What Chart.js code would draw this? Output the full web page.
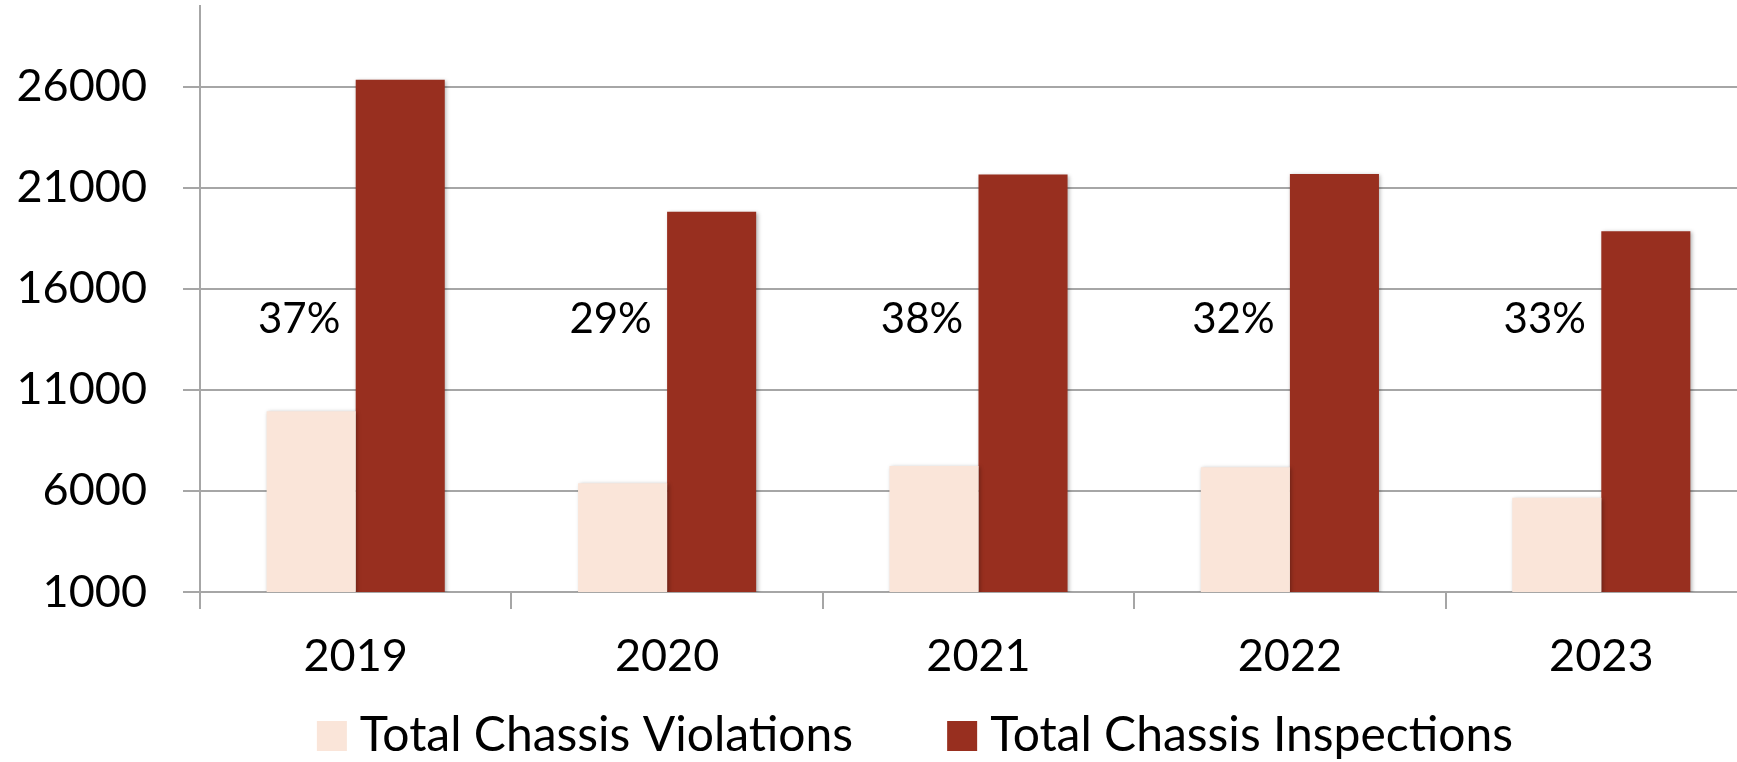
<!DOCTYPE html>
<html>
<head>
<meta charset="utf-8">
<script src="https://cdn.jsdelivr.net/npm/chart.js@4/dist/chart.umd.min.js"></script>
<style>
  html, body { margin: 0; padding: 0; background: #ffffff; overflow: hidden; }
  #wrap { position: absolute; left: 0; top: 0; width: 1830px; height: 762px; }
</style>
</head>
<body>
<div id="wrap"><canvas id="c" width="1830" height="762"></canvas></div>
<script>
const categories = ['2019', '2020', '2021', '2022', '2023'];
const violations = [9950, 6380, 7230, 7170, 5670];
const inspections = [26350, 19820, 21660, 21680, 18850];
const percentLabels = ['37%', '29%', '38%', '32%', '33%'];
const percentLabelValue = 14500;
const yTickValues = [1000, 6000, 11000, 16000, 21000, 26000];
const seriesNames = ['Total Chassis Violations', 'Total Chassis Inspections'];
const seriesColors = ['#FAE5D9', '#982F1F'];

const FONT = 'Lato, "Open Sans", sans-serif';

const shadowPlugin = {
  id: 'barShadow',
  beforeDatasetDraw(chart) {
    const ctx = chart.ctx;
    ctx.save();
    ctx.shadowColor = 'rgba(0,0,0,0.30)';
    ctx.shadowBlur = 4;
    ctx.shadowOffsetX = 1.5;
    ctx.shadowOffsetY = 1;
  },
  afterDatasetDraw(chart) {
    chart.ctx.restore();
  }
};

const percentPlugin = {
  id: 'percentLabels',
  afterDatasetsDraw(chart) {
    const ctx = chart.ctx;
    const meta = chart.getDatasetMeta(0);
    const y = chart.scales.y.getPixelForValue(percentLabelValue);
    ctx.save();
    ctx.font = '42px ' + FONT;
    ctx.fillStyle = '#000000';
    ctx.textAlign = 'center';
    ctx.textBaseline = 'middle';
    percentLabels.forEach((t, i) => {
      const el = meta.data[i];
      ctx.fillText(t, el.x - 12, y);
    });
    ctx.restore();
  }
};

// Custom legend drawn below the axis (layout only; names/colours come from datasets)
const legendPlugin = {
  id: 'customLegend',
  afterDraw(chart) {
    const ctx = chart.ctx;
    const ds = chart.data.datasets;
    const box = 30, gap = 13, spacing = 94, centerX = 915, baseY = 751;
    ctx.save();
    ctx.font = '48px ' + FONT;
    ctx.textBaseline = 'alphabetic';
    ctx.textAlign = 'left';
    const widths = ds.map(d => ctx.measureText(d.label).width);
    let total = 0;
    widths.forEach((w, i) => { total += box + gap + w + (i < widths.length - 1 ? spacing : 0); });
    let x = centerX - total / 2;
    ds.forEach((d, i) => {
      ctx.fillStyle = d.backgroundColor;
      ctx.fillRect(x, baseY - box, box, box);
      ctx.fillStyle = '#000000';
      ctx.fillText(d.label, x + box + gap, baseY);
      x += box + gap + widths[i] + spacing;
    });
    ctx.restore();
  }
};

new Chart(document.getElementById('c'), {
  type: 'bar',
  data: {
    labels: categories,
    datasets: [
      {
        label: seriesNames[0],
        data: violations,
        backgroundColor: seriesColors[0],
        borderWidth: 0,
        categoryPercentage: 0.572,
        barPercentage: 1.0
      },
      {
        label: seriesNames[1],
        data: inspections,
        backgroundColor: seriesColors[1],
        borderWidth: 0,
        categoryPercentage: 0.572,
        barPercentage: 1.0
      }
    ]
  },
  options: {
    responsive: false,
    animation: false,
    layout: { padding: { top: 6, right: 73, left: 0, bottom: 70 } },
    plugins: {
      legend: { display: false },
      tooltip: { enabled: false }
    },
    scales: {
      x: {
        offset: true,
        afterFit(scale) {
          scale.height = 100;
          scale.paddingLeft = 0;
          scale.paddingRight = 0;
        },
        grid: {
          offset: true,
          drawOnChartArea: false,
          drawTicks: true,
          tickLength: 17,
          color: '#A6A6A6',
          lineWidth: 2
        },
        border: { display: true, color: '#A6A6A6', width: 2 },
        ticks: {
          color: '#000000',
          padding: 20,
          font: { family: FONT, size: 45 }
        }
      },
      y: {
        min: 1000,
        max: 30000,
        afterBuildTicks(axis) {
          axis.ticks = yTickValues.map(v => ({ value: v }));
        },
        afterFit(scale) {
          scale.width = 200;
          scale.paddingTop = 0;
          scale.paddingBottom = 0;
        },
        grid: {
          color: '#A6A6A6',
          lineWidth: 2,
          tickLength: 17
        },
        border: { display: true, color: '#A6A6A6', width: 2 },
        ticks: {
          color: '#000000',
          padding: 36,
          font: { family: FONT, size: 45 },
          callback: (v) => String(v)
        }
      }
    }
  },
  plugins: [shadowPlugin, percentPlugin, legendPlugin]
});
</script>
</body>
</html>
